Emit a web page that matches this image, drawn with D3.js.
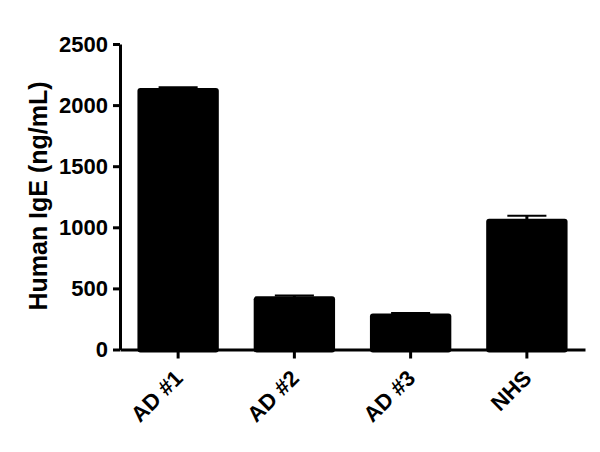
<!DOCTYPE html>
<html>
<head>
<meta charset="utf-8">
<script src="https://cdn.jsdelivr.net/npm/d3@7"></script>
<style>
  body { margin: 0; background: #fff; }
  text { font-family: "Liberation Sans", Arial, sans-serif; font-weight: bold; }
</style>
</head>
<body>
<div class="container"></div>
<script>
let groups = ['AD #1', 'AD #2', 'AD #3', 'NHS']
let means = [2140, 435, 295, 1070]
let errors = [6, 6, 3, 25]
let yTicks = [0, 500, 1000, 1500, 2000, 2500]

let margin = {top: 44, right: 15, bottom: 102.5, left: 120}
let width = 600, height = 452

let svg = d3.select('.container')
    .append('svg')
    .attr('width', width)
    .attr('height', height)

let x = d3.scaleBand()
    .domain(groups)
    .range([margin.left, width - margin.right])
    .paddingInner(0.3)
    .paddingOuter(0.15)

let y = d3.scaleLinear()
    .domain([0, 2500])
    .range([height - margin.bottom, margin.top])

// bars
svg.selectAll('rect.bar')
    .data(groups)
  .enter().append('rect')
    .attr('class', 'bar')
    .attr('x', d => x(d))
    .attr('width', x.bandwidth())
    .attr('y', (d, i) => y(means[i]))
    .attr('height', (d, i) => y(0) - y(means[i]) + 3)
    .attr('rx', 3)
    .style('fill', '#000')

// error bars (upper only)
let cap = x.bandwidth() * 0.24
svg.selectAll('line.err')
    .data(groups)
  .enter().append('line')
    .attr('x1', d => x(d) + x.bandwidth() / 2 - cap)
    .attr('x2', d => x(d) + x.bandwidth() / 2 + cap)
    .attr('y1', (d, i) => y(means[i] + errors[i]))
    .attr('y2', (d, i) => y(means[i] + errors[i]))
    .attr('stroke', '#000')
    .attr('stroke-width', 2)
svg.selectAll('line.errv')
    .data(groups)
  .enter().append('line')
    .attr('x1', d => x(d) + x.bandwidth() / 2)
    .attr('x2', d => x(d) + x.bandwidth() / 2)
    .attr('y1', (d, i) => y(means[i]) + 2)
    .attr('y2', (d, i) => y(means[i] + errors[i]))
    .attr('stroke', '#000')
    .attr('stroke-width', 3)

// y axis
let yAxis = svg.append('g')
    .attr('transform', `translate(${margin.left},0)`)
    .call(d3.axisLeft(y).tickValues(yTicks).tickFormat(d3.format('d'))
        .tickSize(7).tickPadding(5).tickSizeOuter(0))
yAxis.select('.domain').attr('stroke-width', 3)
yAxis.selectAll('.tick line').attr('stroke-width', 3)
yAxis.selectAll('.tick text')
    .style('font-size', '22px')
    .attr('fill', '#000')

// x axis
let xAxis = svg.append('g')
    .attr('transform', `translate(0,${y(0)})`)
    .call(d3.axisBottom(x).tickSize(9).tickSizeOuter(0))
xAxis.select('.domain').attr('stroke-width', 3)
xAxis.selectAll('.tick line').attr('stroke-width', 3)
xAxis.selectAll('.tick text')
    .style('font-size', '22px')
    .attr('fill', '#000')
    .attr('text-anchor', 'end')
    .attr('dy', null)
    .attr('y', 0)
    .attr('transform', 'translate(6,30) rotate(-45)')

// y title
svg.append('text')
    .attr('transform', 'translate(47,196) rotate(-90)')
    .attr('text-anchor', 'middle')
    .style('font-size', '25px')
    .text('Human IgE (ng/mL)')
</script>
</body>
</html>
